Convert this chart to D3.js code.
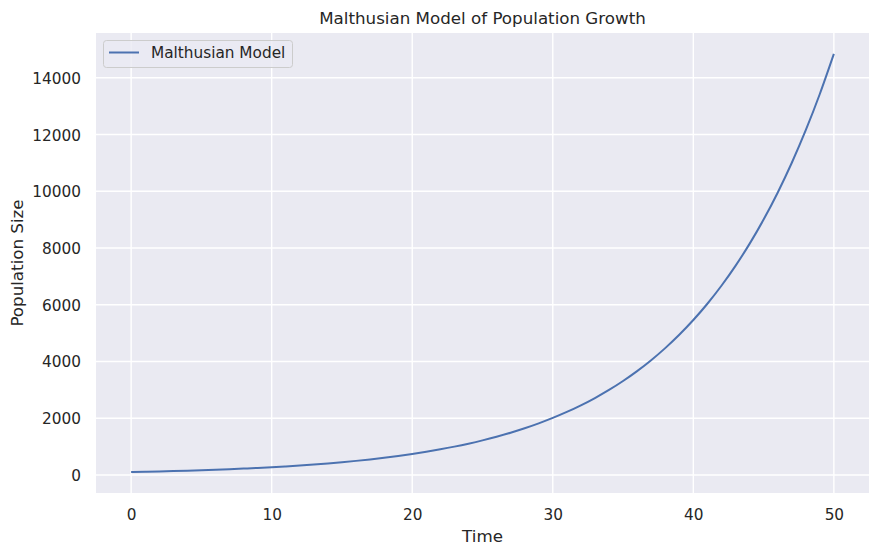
<!DOCTYPE html>
<html><head><meta charset="utf-8">
<script src="https://cdn.jsdelivr.net/npm/d3@7"></script>
<style>body{margin:0;background:#fff}svg{display:block;font-family:"DejaVu Sans",sans-serif}</style>
</head><body><svg id="c" width="879" height="556"></svg>
<script>
const time = d3.range(0, 51);
const population = [100,110.5,122.1,135.0,149.2,164.9,182.2,201.4,222.6,246.0,271.8,300.4,332.0,366.9,405.5,448.2,495.3,547.4,605.0,668.6,738.9,816.6,902.5,997.4,1102.3,1218.2,1346.4,1488.0,1644.5,1817.4,2008.6,2219.8,2453.3,2711.3,2996.4,3311.5,3659.8,4044.7,4470.1,4940.2,5459.8,6034.0,6668.6,7369.9,8145.1,9001.7,9948.4,10994.6,12151.0,13428.9,14841.3];
const xTicks = [0,10,20,30,40,50];
const yTicks = [0,2000,4000,6000,8000,10000,12000,14000];
const seriesName = "Malthusian Model";
const title = "Malthusian Model of Population Growth";

const svg = d3.select("#c");
const L=96, R=869, T=33, B=493;
const x = d3.scaleLinear().domain([-2.5,52.5]).range([L,R]);
const yr = 14841.3-100, pad = yr*0.05;
const y = d3.scaleLinear().domain([100-pad,14841.3+pad]).range([B,T]);

svg.append("rect").attr("x",L).attr("y",T).attr("width",R-L).attr("height",B-T).attr("fill","#eaeaf2");
const g = svg.append("g");
g.selectAll(".gx").data(xTicks).join("line").attr("x1",d=>x(d)).attr("x2",d=>x(d)).attr("y1",T).attr("y2",B).attr("stroke","#fff").attr("stroke-width",1.4);
g.selectAll(".gy").data(yTicks).join("line").attr("y1",d=>y(d)).attr("y2",d=>y(d)).attr("x1",L).attr("x2",R).attr("stroke","#fff").attr("stroke-width",1.4);

const xa = svg.append("g").attr("transform",`translate(0,${B})`).call(d3.axisBottom(x).tickValues(xTicks).tickFormat(d3.format("d")).tickSize(0).tickPadding(0));
xa.select(".domain").remove();
xa.selectAll("text").attr("dy",null).attr("y",27).attr("fill","#262626").style("font-size","15.3px").style("font-family","DejaVu Sans");
const ya = svg.append("g").attr("transform",`translate(${L},0)`).call(d3.axisLeft(y).tickValues(yTicks).tickFormat(d3.format("d")).tickSize(0).tickPadding(0));
ya.select(".domain").remove();
ya.selectAll("text").attr("x",-15).attr("dy","0.36em").attr("fill","#262626").style("font-size","15.3px").style("font-family","DejaVu Sans");

const data = time.map((t,i)=>[t,population[i]]);
svg.append("path").datum(data).attr("fill","none").attr("stroke","#4c72b0").attr("stroke-width",2)
  .attr("d",d3.line().x(d=>x(d[0])).y(d=>y(d[1])).curve(d3.curveMonotoneX));

svg.append("text").attr("x",(L+R)/2).attr("y",24).attr("text-anchor","middle").attr("fill","#262626").style("font-size","16.7px").text(title);
svg.append("text").attr("x",(L+R)/2).attr("y",542).attr("text-anchor","middle").attr("fill","#262626").style("font-size","16.7px").text("Time");
svg.append("text").attr("transform",`translate(23,${(T+B)/2}) rotate(-90)`).attr("text-anchor","middle").attr("fill","#262626").style("font-size","16.7px").text("Population Size");

const lg = svg.append("g");
lg.append("rect").attr("x",103.5).attr("y",40.5).attr("width",189).attr("height",27).attr("rx",3).attr("fill","#eaeaf2").attr("fill-opacity",0.8).attr("stroke","#cccccc").attr("stroke-width",1);
lg.append("line").attr("x1",109).attr("x2",139).attr("y1",52.5).attr("y2",52.5).attr("stroke","#4c72b0").attr("stroke-width",2);
lg.append("text").attr("x",151).attr("y",58).attr("fill","#262626").style("font-size","15.3px").text(seriesName);
</script></body></html>
